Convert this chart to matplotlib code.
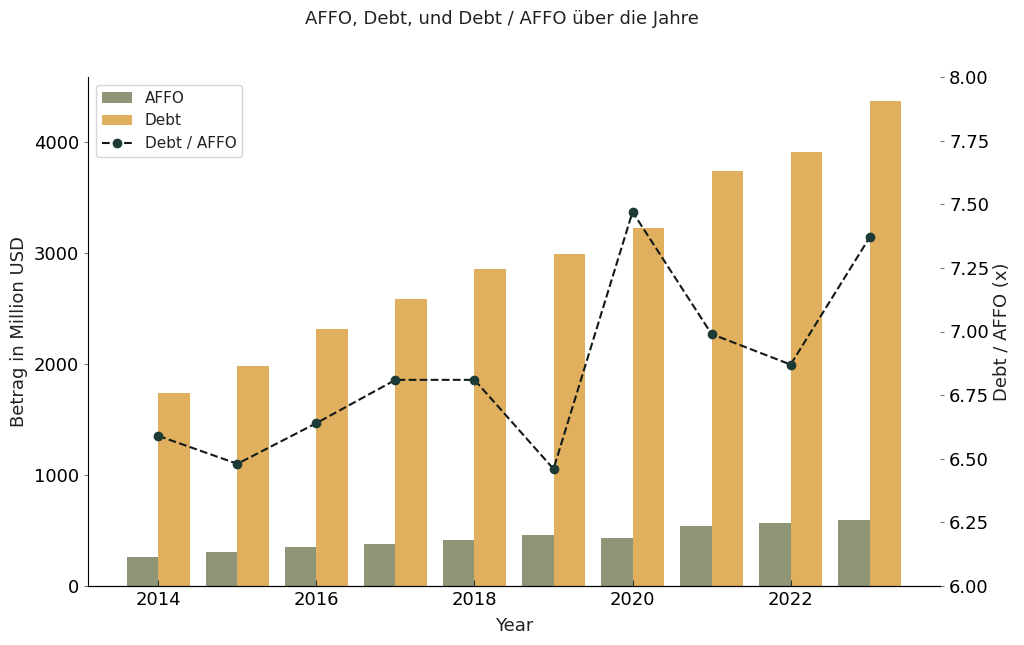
import numpy as np
import matplotlib
matplotlib.use('Agg')
from matplotlib import pyplot as plt

years = [2014, 2015, 2016, 2017, 2018, 2019, 2020, 2021, 2022, 2023]
affo = [261, 304, 349, 378, 417, 462, 432, 538, 570, 592]
debt = [1739, 1982, 2315, 2586, 2856, 2991, 3225, 3739, 3910, 4369]
ratio = [6.59, 6.48, 6.64, 6.81, 6.81, 6.46, 7.47, 6.99, 6.87, 7.37]

plt.rcParams['font.family'] = 'DejaVu Sans'
plt.rcParams['font.size'] = 13
plt.rcParams['text.color'] = '#222222'
plt.rcParams['axes.labelcolor'] = '#222222'

fig = plt.figure(figsize=(10.24, 6.45), dpi=100)
ax = fig.add_axes([88/1024, 1-586/645, (940-88)/1024, (586-77)/645])
x = np.array(years)
w = 0.4
b1 = ax.bar(x - w/2, affo, w, color='#8f9577', label='AFFO')
b2 = ax.bar(x + w/2, debt, w, color='#e0b05e', label='Debt')
ax.set_xlabel('Year', labelpad=6)
ax.set_ylabel('Betrag in Million USD')
ax.spines['top'].set_visible(False)
ax.spines['right'].set_visible(False)
ax.set_xticks([2014, 2016, 2018, 2020, 2022])
ax.tick_params(axis='x', direction='in', length=4, color='#333333')
ax.tick_params(axis='y', length=3, color='#777777')

ax2 = ax.twinx()
l, = ax2.plot(x, ratio, linestyle='--', color='#111a18', marker='o',
              markerfacecolor='#1d3b36', markeredgecolor='#1d3b36',
              markersize=6, linewidth=1.5, label='Debt / AFFO')
ax2.set_ylim(6, 8)
ax2.set_ylabel('Debt / AFFO (x)', labelpad=3)
ax2.tick_params(axis='y', length=3, color='#777777')
for s in ['top', 'right', 'left']:
    ax2.spines[s].set_visible(False)

ax.legend([b1, b2, l], ['AFFO', 'Debt', 'Debt / AFFO'], loc='upper left', fontsize=11)
fig.text(0.49, 0.97, 'AFFO, Debt, und Debt / AFFO über die Jahre', ha='center', va='center', fontsize=13)
fig.savefig('out.png', dpi=100)
